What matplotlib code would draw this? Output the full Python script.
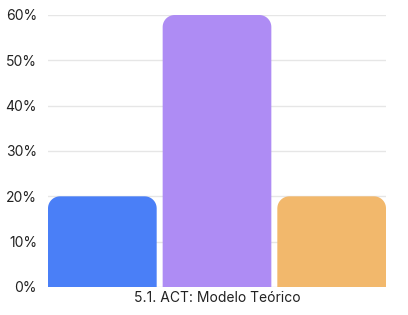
import numpy as np
import matplotlib.pyplot as plt
from matplotlib.path import Path
from matplotlib.patches import PathPatch
from matplotlib.ticker import FuncFormatter

categories = ["A", "B", "C"]
values = [20, 60, 20]
colors = ["#4A7FF7", "#AE8CF4", "#F2B86C"]
xlabel = "5.1. ACT: Modelo Teórico"

plt.rcParams['font.family'] = ['Inter', 'DejaVu Sans']

fig = plt.figure(figsize=(4.08, 3.15), dpi=100)
ax = fig.add_axes([48 / 408, 28 / 315, 338 / 408, 272 / 315])

width = 109 / 115
x = np.arange(len(values))
ax.set_xlim(-0.5 * width, len(values) - 1 + 0.5 * width)
ax.set_ylim(0, 60)

# corner radius in pixels -> data units
rpx = 12
bbox = ax.get_position()
ax_w_px = bbox.width * 408
ax_h_px = bbox.height * 315
rx = rpx * (ax.get_xlim()[1] - ax.get_xlim()[0]) / ax_w_px
ry = rpx * 60 / ax_h_px


def rounded_bar(x0, x1, top):
    verts = [(x0, 0)]
    for a in np.linspace(np.pi, np.pi / 2, 14):
        verts.append((x0 + rx + rx * np.cos(a), top - ry + ry * np.sin(a)))
    for a in np.linspace(np.pi / 2, 0, 14):
        verts.append((x1 - rx + rx * np.cos(a), top - ry + ry * np.sin(a)))
    verts.append((x1, 0))
    verts.append((x0, 0))
    codes = [Path.MOVETO] + [Path.LINETO] * (len(verts) - 2) + [Path.CLOSEPOLY]
    return Path(verts, codes)


for xi, v, c in zip(x, values, colors):
    p = rounded_bar(xi - width / 2, xi + width / 2, v)
    ax.add_patch(PathPatch(p, facecolor=c, edgecolor='none', zorder=3))

ax.set_yticks(range(0, 61, 10))
ax.yaxis.set_major_formatter(FuncFormatter(lambda v, pos: f"{int(v)}%"))
ax.grid(axis='y', color='#e6e6e6', linewidth=1, zorder=0)
ax.set_xticks([1])
ax.set_xticklabels([xlabel])
ax.tick_params(axis='both', length=0, labelsize=10, colors='#222222')
ax.tick_params(axis='y', pad=8)
ax.tick_params(axis='x', pad=3)
for s in ax.spines.values():
    s.set_visible(False)

fig.savefig("out.png", dpi=100)
